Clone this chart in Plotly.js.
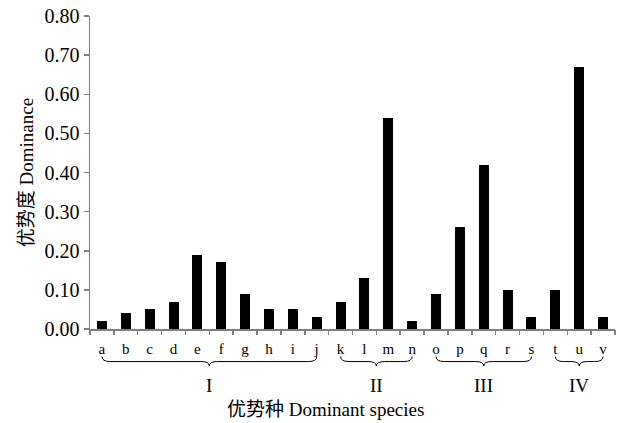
<!DOCTYPE html>
<html>
<head>
<meta charset="utf-8">
<script src="https://cdn.plot.ly/plotly-3.0.1.min.js"></script>
<style>html,body{margin:0;padding:0;background:#fff;}#chart{width:622px;height:423px;}</style>
</head>
<body>
<div id="chart"></div>
<script>
const species = ['a','b','c','d','e','f','g','h','i','j','k','l','m','n','o','p','q','r','s','t','u','v'];
const dominance = [0.02,0.04,0.05,0.07,0.19,0.17,0.09,0.05,0.05,0.03,0.07,0.13,0.54,0.02,0.09,0.26,0.42,0.10,0.03,0.10,0.67,0.03];
const groupNames = ['I','II','III','IV'];
const groupStart = [0,10,14,19];
const groupEnd = [9,13,18,21];
const yTicks = [0,0.1,0.2,0.3,0.4,0.5,0.6,0.7,0.8];

const serif = 'Liberation Serif, Times New Roman, Noto Sans CJK SC, serif';
const idx = species.map((s,i)=>i);
const boundaries = [];
for (let i=0;i<=species.length;i++) boundaries.push(i-0.5);

const trace = {type:'bar', x: idx, y: dominance, width: 0.42, marker:{color:'#000'}, hoverinfo:'x+y'};
const tickTrace = {type:'scatter', x:[], y:[], xaxis:'x2', yaxis:'y', showlegend:false};

function bracePath(x0,x1){
  const yTop=-0.088, yMid=-0.104, yTip=-0.118, d=0.35;
  const xm=(x0+x1)/2;
  return `M ${x0},${yTop} Q ${x0},${yMid} ${x0+d},${yMid} L ${xm-d},${yMid} Q ${xm},${yMid} ${xm},${yTip} Q ${xm},${yMid} ${xm+d},${yMid} L ${x1-d},${yMid} Q ${x1},${yMid} ${x1},${yTop}`;
}
const shapes = groupNames.map((g,k)=>({type:'path', xref:'x', yref:'paper', path: bracePath(groupStart[k], groupEnd[k]), line:{color:'#000', width:1}}));
const annotations = groupNames.map((g,k)=>({xref:'x', yref:'paper', x:(groupStart[k]+groupEnd[k])/2, y:-0.179, text:g, showarrow:false, font:{family:serif, size:19, color:'#000'}, yanchor:'middle'}));
annotations.push({xref:'paper', yref:'paper', x:0.449, y:-0.258, text:'优势种 Dominant species', showarrow:false, font:{family:serif, size:19, color:'#000'}, yanchor:'middle'});

const layout = {
  width:622, height:423,
  margin:{l:90, r:7, t:16, b:94},
  paper_bgcolor:'#fff', plot_bgcolor:'#fff',
  showlegend:false,
  bargap:0,
  xaxis:{range:[-0.5,21.5], tickmode:'array', tickvals:idx, ticktext:species, ticks:'', showline:true, linecolor:'#808080', linewidth:1.5, zeroline:false, showgrid:false, tickfont:{family:serif, size:15, color:'#000'}, ticklabelstandoff:5, fixedrange:true},
  xaxis2:{range:[-0.5,21.5], overlaying:'x', anchor:'y', side:'bottom', tickmode:'array', tickvals:boundaries, ticks:'outside', ticklen:5, tickwidth:1.5, tickcolor:'#808080', showticklabels:false, showline:false, zeroline:false, showgrid:false},
  yaxis:{range:[0,0.8], tickmode:'array', tickvals:yTicks, ticktext:yTicks.map(v=>v.toFixed(2)), ticks:'outside', ticklen:5, tickwidth:1.5, tickcolor:'#808080', showline:true, linecolor:'#808080', linewidth:1.5, zeroline:false, showgrid:false, tickfont:{family:serif, size:20, color:'#000'},
    title:{text:'优势度 Dominance', font:{family:serif, size:19, color:'#000'}, standoff:6}},
  shapes: shapes,
  annotations: annotations
};
Plotly.newPlot('chart', [trace, tickTrace], layout, {displayModeBar:false, staticPlot:true});
</script>
</body>
</html>
